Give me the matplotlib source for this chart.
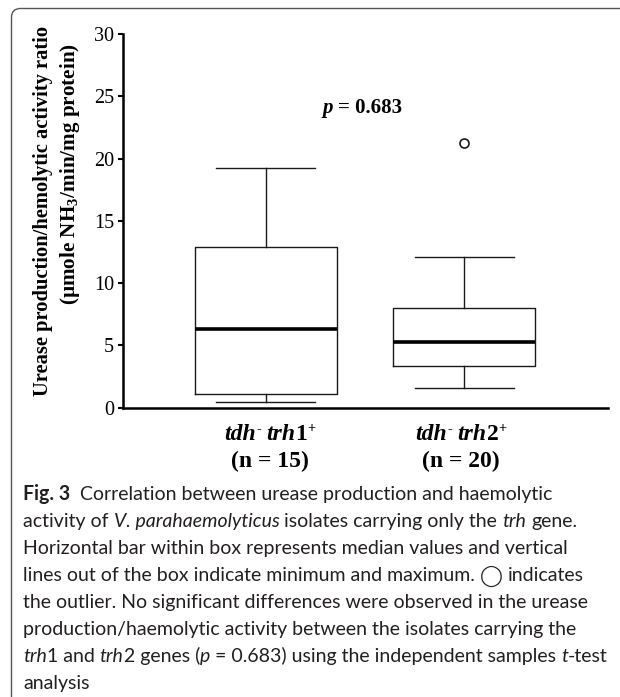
import matplotlib
matplotlib.use('Agg')
import matplotlib.pyplot as plt
from matplotlib.patches import FancyBboxPatch
from matplotlib.transforms import IdentityTransform

# box statistics
positions = [1, 2]
q1 = [1.07, 3.36]
medians = [6.31, 5.29]
q3 = [12.91, 7.97]
whis_lo = [0.43, 1.55]
whis_hi = [19.21, 12.06]
fliers = [[], [21.21]]
y_ticks = [0, 5, 10, 15, 20, 25, 30]
gene_labels = ["1", "2"]
n_labels = ["(n = 15)", "(n = 20)"]
p_text = "= 0.683"

plt.rcParams['font.family'] = 'Liberation Serif'
plt.rcParams['mathtext.fontset'] = 'custom'
plt.rcParams['mathtext.rm'] = 'Liberation Serif:bold'
plt.rcParams['mathtext.bf'] = 'Liberation Serif:bold'

W, H = 620, 697
fig = plt.figure(figsize=(W / 100, H / 100), dpi=100)
renderer = fig.canvas.get_renderer()


def fx(px):
    return px / W


def fy(py):
    return 1 - py / H


# rounded frame around the whole figure (cut at right / bottom)
frame = FancyBboxPatch((11.5, -30), 700, H - 8.5 + 30,
                       boxstyle="round,pad=0,rounding_size=9",
                       transform=IdentityTransform(), fill=False,
                       edgecolor='#555555', linewidth=1.0)
fig.add_artist(frame)

ax = fig.add_axes([fx(123), fy(407.6), (608 - 123) / W, (407.6 - 34) / H])

stats = []
for lo, a, m, b, hi, fl in zip(whis_lo, q1, medians, q3, whis_hi, fliers):
    stats.append(dict(whislo=lo, q1=a, med=m, q3=b, whishi=hi, fliers=fl))

line_c = '#1a1a1a'
ax.bxp(stats, positions=positions, widths=0.717, capwidths=0.5,
       boxprops=dict(color=line_c, linewidth=1.0),
       whiskerprops=dict(color=line_c, linewidth=1.0),
       capprops=dict(color=line_c, linewidth=1.0),
       medianprops=dict(color='black', linewidth=2.6),
       flierprops=dict(marker='o', markersize=6.5, markerfacecolor='white',
                       markeredgecolor=line_c, markeredgewidth=1.2),
       manage_ticks=False)

ax.set_xlim(0.278, 2.727)
ax.set_ylim(0, 30)
ax.set_yticks(y_ticks)
ax.set_xticks([])
ax.spines['top'].set_visible(False)
ax.spines['right'].set_visible(False)
ax.spines['left'].set_linewidth(1.8)
ax.spines['bottom'].set_linewidth(1.8)
ax.tick_params(axis='y', length=3.5, width=1.5, pad=3, labelsize=14.5,
               labelrotation=0)

serif_b = dict(family='Liberation Serif', weight='bold', color='black')
serif_bi = dict(family='Liberation Serif', weight='bold', style='italic', color='black')


def text_width(s, props):
    if not s:
        return 0
    t = fig.text(0, 0, "|" + s + "|", **props)
    w = t.get_window_extent(renderer).width
    t.remove()
    t = fig.text(0, 0, "||", **props)
    w -= t.get_window_extent(renderer).width
    t.remove()
    return w


def draw_runs(runs, x, y, align='left'):
    """runs: list of (text, props, raise_px); y is the baseline in pixels"""
    widths = [text_width(s, p) for s, p, r in runs]
    if align == 'center':
        x -= sum(widths) / 2
    for (s, p, r), w in zip(runs, widths):
        body = s.strip()
        if body:
            lead = text_width(s[:len(s) - len(s.lstrip())], p)
            fig.text(fx(x + lead), fy(y - r), body, ha='left', va='baseline', **p)
        x += w


# y axis title, two lines
fig.text(fx(43), fy(211), "Urease production/hemolytic activity ratio",
         rotation=90, ha='center', va='center', fontsize=14.8, **serif_b)
fig.text(fx(70), fy(174), r"(µmole NH$_\mathbf{3}$/min/mg protein)",
         rotation=90, ha='center', va='center', fontsize=15.2, **serif_b)

# p value
draw_runs([("p", dict(serif_bi, fontsize=15), 0),
           (" " + p_text, dict(serif_b, fontsize=15), 0)], 322, 113)

# group labels under the axis
lab_size = 17
for cx, g, n in zip([270, 461], gene_labels, n_labels):
    draw_runs([("tdh", dict(serif_bi, fontsize=lab_size), 0),
               ("-", dict(serif_b, fontsize=lab_size * 0.6), 7),
               (" trh", dict(serif_bi, fontsize=lab_size), 0),
               (g, dict(serif_b, fontsize=lab_size), 0),
               ("+", dict(serif_b, fontsize=lab_size * 0.6), 8)], cx, 440, 'center')
    draw_runs([(n, dict(serif_b, fontsize=lab_size), 0)], cx, 467, 'center')

# caption
cap_c = '#231f20'
cap_family = ['Lato', 'DejaVu Sans']


def caption_lines(size):
    reg = dict(family=cap_family, color=cap_c, fontsize=size)
    it = dict(reg, style='italic')
    bold = dict(reg, weight='bold')
    circ = dict(family='DejaVu Sans', color=cap_c, fontsize=size * 1.05)
    return [
        [("Fig. 3", bold, 0), ("  Correlation between urease production and haemolytic", reg, 0)],
        [("activity of ", reg, 0), ("V. parahaemolyticus", it, 0),
         (" isolates carrying only the ", reg, 0), ("trh", it, 0), (" gene.", reg, 0)],
        [("Horizontal bar within box represents median values and vertical", reg, 0)],
        [("lines out of the box indicate minimum and maximum. ", reg, 0), ("◯", circ, -1),
         (" indicates", reg, 0)],
        [("the outlier. No significant differences were observed in the urease", reg, 0)],
        [("production/haemolytic activity between the isolates carrying the", reg, 0)],
        [("trh", it, 0), ("1 and ", reg, 0), ("trh", it, 0), ("2 genes (", reg, 0), ("p", it, 0),
         (" = 0.683) using the independent samples ", reg, 0), ("t", it, 0), ("-test", reg, 0)],
        [("analysis", reg, 0)],
    ]


# right edges of the caption lines in the reference, used to pick a size
cap_right = [560, 567, 567, 595, 582, 578, 615, 90]
w10 = [sum(text_width(s, p) for s, p, r in line) for line in caption_lines(10)]
targets = [r - 23 for r in cap_right]
scale = sum(a * b for a, b in zip(w10, targets)) / sum(a * a for a in w10)
for i, runs in enumerate(caption_lines(10 * scale)):
    draw_runs(runs, 23, 500 + 27 * i)

fig.savefig("out.png", dpi=100)
